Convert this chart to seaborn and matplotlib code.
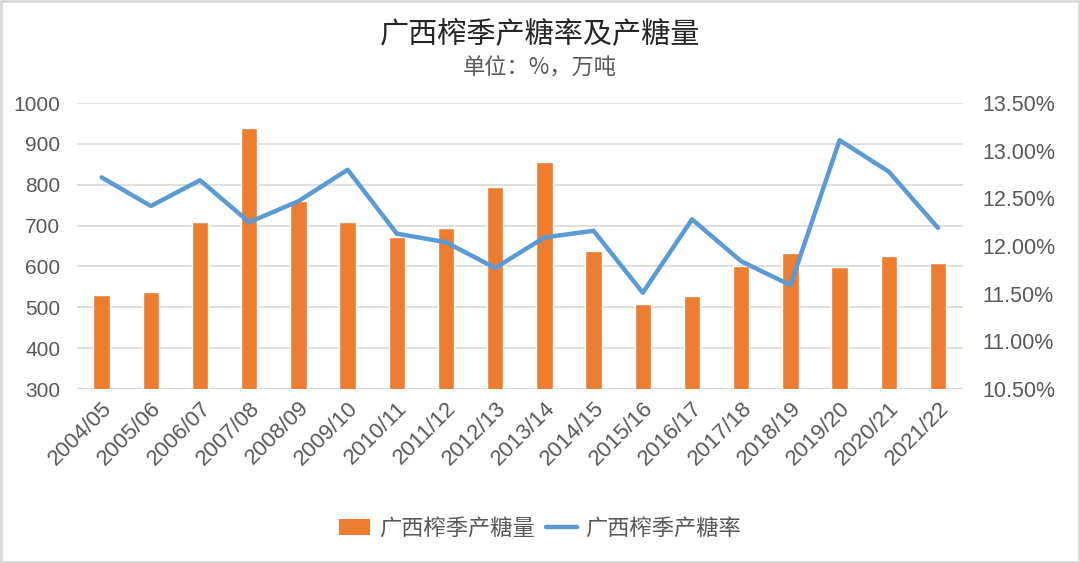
import matplotlib
matplotlib.use("Agg")
import matplotlib.pyplot as plt
import numpy as np
import pandas as pd
import seaborn as sns
from matplotlib.patches import Rectangle, Patch
from matplotlib.lines import Line2D

SEASONS = ["2004/05", "2005/06", "2006/07", "2007/08", "2008/09", "2009/10",
           "2010/11", "2011/12", "2012/13", "2013/14", "2014/15", "2015/16",
           "2016/17", "2017/18", "2018/19", "2019/20", "2020/21", "2021/22"]
SUGAR_OUTPUT = [531, 538, 708, 939, 761, 709, 673, 694, 794, 856,
                637, 509, 528, 600, 633, 598, 626, 609]
SUGAR_RATE = [12.72, 12.42, 12.69, 12.25, 12.47, 12.80, 12.13, 12.04, 11.77, 12.09,
              12.16, 11.51, 12.28, 11.84, 11.59, 13.11, 12.78, 12.19]

BAR_COLOR = "#ED7D31"
LINE_COLOR = "#5B9BD5"
GRID_COLOR = "#D9D9D9"
TEXT_COLOR = "#595959"

sns.set_theme(style="white")
plt.rcParams["font.family"] = ["Noto Sans CJK SC", "DejaVu Sans"]

df = pd.DataFrame({"season": SEASONS, "output": SUGAR_OUTPUT,
                   "rate": SUGAR_RATE, "pos": np.arange(len(SEASONS))})

fig = plt.figure(figsize=(10.8, 5.63), dpi=100)
ax = fig.add_axes([0.0713, 0.309, 0.820, 0.508])

sns.barplot(data=df, x="season", y="output", color=BAR_COLOR, width=0.33,
            saturation=1, ax=ax, zorder=2)
ax.set_ylim(300, 1000)
ax.set_yticks(range(300, 1001, 100))
ax.set_xlim(-0.5, len(SEASONS) - 0.5)
ax.grid(axis="y", color=GRID_COLOR, linewidth=1.2, zorder=0)
ax.set_axisbelow(True)
ax.set_xlabel("")
ax.set_ylabel("")
for s in ax.spines.values():
    s.set_visible(False)
ax.axhline(300, color=GRID_COLOR, linewidth=1.6, zorder=1)
ax.tick_params(axis="y", length=0, labelsize=15, labelcolor=TEXT_COLOR, pad=12)
ax.tick_params(axis="x", length=0, labelsize=16, labelcolor=TEXT_COLOR, pad=6)
for lab in ax.get_yticklabels():
    lab.set_fontfamily(["Liberation Sans", "DejaVu Sans"])
plt.setp(ax.get_xticklabels(), rotation=45, ha="right", rotation_mode="anchor",
         fontfamily=["Liberation Sans", "DejaVu Sans"])

ax2 = ax.twinx()
sns.lineplot(data=df, x="pos", y="rate", color=LINE_COLOR, linewidth=3.2, ax=ax2,
             zorder=3)
ax2.set_ylim(10.5, 13.5)
ax2.set_yticks(np.arange(10.5, 13.51, 0.5))
ax2.set_yticklabels([f"{v:.2f}%" for v in np.arange(10.5, 13.51, 0.5)],
                    fontfamily=["Liberation Sans", "DejaVu Sans"])
ax2.set_xlim(-0.5, len(SEASONS) - 0.5)
ax2.set_ylabel("")
ax2.set_xlabel("")
ax2.grid(False)
for s in ax2.spines.values():
    s.set_visible(False)
ax2.tick_params(axis="y", length=0, labelsize=15.5, labelcolor=TEXT_COLOR, pad=14)

fig.text(0.5, 0.937, "广西榨季产糖率及产糖量", ha="center", va="center",
         fontsize=21, color="#262626", fontweight="medium")
fig.text(0.5, 0.879, "单位：%，万吨", ha="center", va="center",
         fontsize=16, color="#595959")

handles = [Patch(facecolor=BAR_COLOR, edgecolor="none"),
           Line2D([0], [0], color=LINE_COLOR, linewidth=3.2)]
fig.legend(handles, ["广西榨季产糖量", "广西榨季产糖率"], loc="center",
           bbox_to_anchor=(0.5, 0.062), ncol=2, frameon=False, fontsize=16,
           labelcolor=TEXT_COLOR, handlelength=1.4, handletextpad=0.4,
           columnspacing=0.5)

fig.patches.append(Rectangle((0.001, 0.002), 0.998, 0.996, transform=fig.transFigure,
                             fill=False, edgecolor=GRID_COLOR, linewidth=2))

fig.savefig("out.png", dpi=100)
